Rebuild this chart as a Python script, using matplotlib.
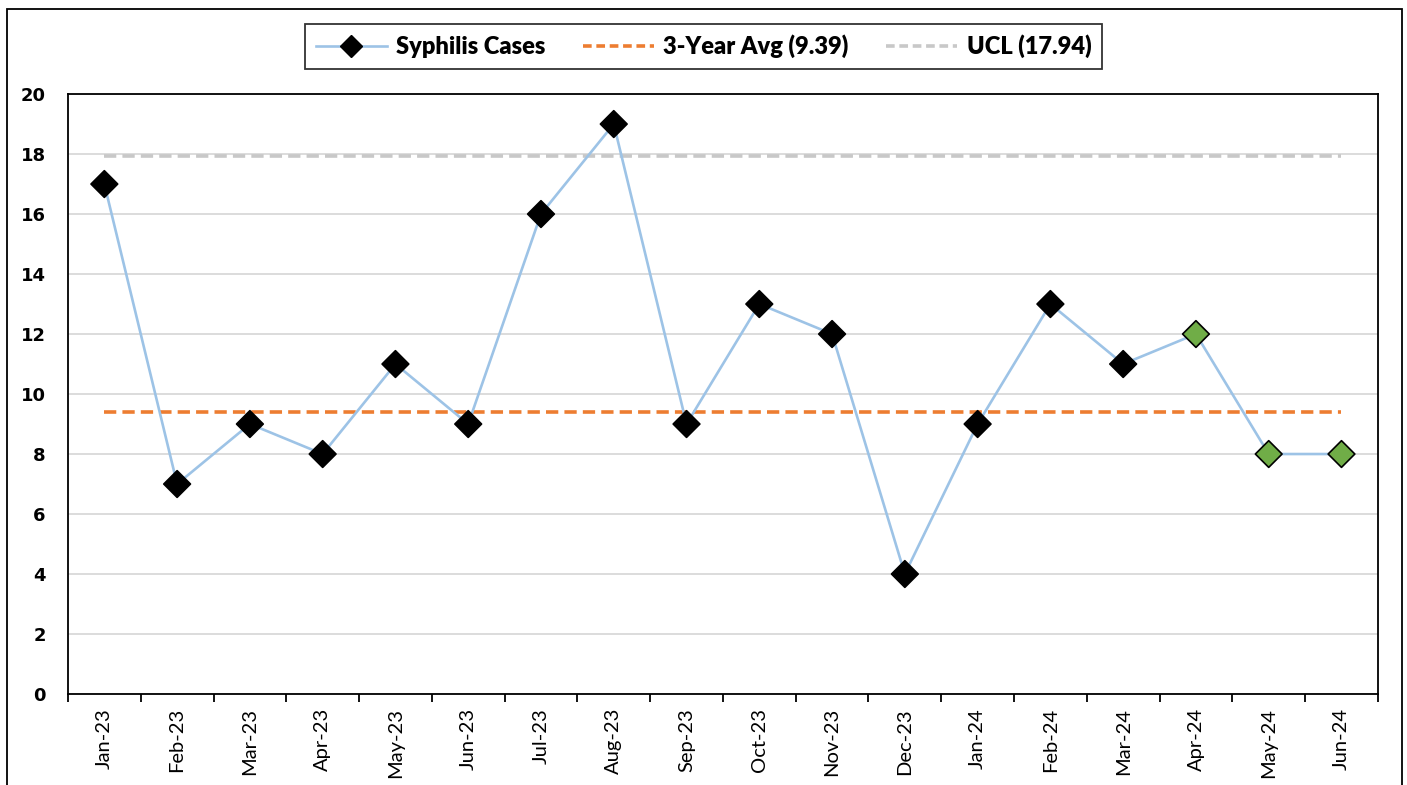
import matplotlib.pyplot as plt
import numpy as np
from matplotlib.patches import Rectangle
from matplotlib.ticker import FixedLocator

months = ["Jan-23", "Feb-23", "Mar-23", "Apr-23", "May-23", "Jun-23",
          "Jul-23", "Aug-23", "Sep-23", "Oct-23", "Nov-23", "Dec-23",
          "Jan-24", "Feb-24", "Mar-24", "Apr-24", "May-24", "Jun-24"]
cases = [17, 7, 9, 8, 11, 9, 16, 19, 9, 13, 12, 4, 9, 13, 11, 12, 8, 8]
# last three months are shown with green markers
highlight = [False] * 15 + [True] * 3
avg_3yr = 9.39
ucl = 17.94

narrow = ["Lato", "DejaVu Sans"]

fig = plt.figure(figsize=(14.07, 7.85), dpi=100)
ax = fig.add_axes([0.0483, 0.1159, 0.931, 0.7643])

x = np.arange(len(months))

ax.plot(x, [ucl] * len(x), color="#C8C8C8", lw=2.6, dashes=(3.4, 1.7),
        label="UCL (17.94)", zorder=2)
ax.plot(x, [avg_3yr] * len(x), color="#ED7D31", lw=2.6, dashes=(3.4, 1.7),
        label="3-Year Avg (9.39)", zorder=2)
ax.plot(x, cases, color="#9DC3E6", lw=1.9, zorder=3)

mcol = ["#70AD47" if h else "black" for h in highlight]
ax.scatter(x, cases, marker="D", s=185, c=mcol, edgecolors="black",
           linewidths=1.2, zorder=4)

# legend handles
h1, = ax.plot([], [], color="#9DC3E6", lw=1.9, marker="D", ms=11,
              mfc="black", mec="black", label="Syphilis Cases")
h2, = ax.plot([], [], color="#ED7D31", lw=2.6, dashes=(2.4, 1.3))
h3, = ax.plot([], [], color="#C8C8C8", lw=2.6, dashes=(2.4, 1.3))
leg = fig.legend([h1, h2, h3],
                 ["Syphilis Cases", "3-Year Avg (9.39)", "UCL (17.94)"],
                 loc="center", bbox_to_anchor=(0.5, 0.941), ncol=3,
                 frameon=True, fancybox=False, handlelength=3.0,
                 columnspacing=1.6, handletextpad=0.4, borderpad=0.45,
                 borderaxespad=0,
                 prop={"family": narrow, "weight": "heavy", "size": 17})
leg.get_frame().set_edgecolor("black")
leg.get_frame().set_linewidth(1.3)

ax.set_xlim(-0.5, len(x) - 0.5)
ax.set_ylim(0, 20)
ax.set_yticks(np.arange(0, 21, 2))
ax.yaxis.grid(True, color="#D9D9D9", lw=1.3)
ax.set_axisbelow(True)

ax.set_xticks(x)
ax.set_xticklabels(months, rotation=90, family=narrow, fontsize=14.5)
ax.xaxis.set_minor_locator(FixedLocator(np.arange(-0.5, len(x), 1.0)))
ax.tick_params(axis="x", which="major", length=0, pad=10)
ax.tick_params(axis="x", which="minor", length=6, width=1.3, direction="out")
ax.tick_params(axis="y", length=0, pad=16)
for lab in ax.get_yticklabels():
    lab.set_fontweight("bold")
    lab.set_fontsize(13)

for sp in ax.spines.values():
    sp.set_linewidth(1.3)
    sp.set_color("black")

# outer chart border (bottom edge cut off like the source)
fig.patches.append(Rectangle((7 / 1407, -0.05), 1395 / 1407, 1.05 - 9 / 785,
                             transform=fig.transFigure, fill=False,
                             edgecolor="black", lw=1.3))

fig.savefig("out.png", dpi=100)
